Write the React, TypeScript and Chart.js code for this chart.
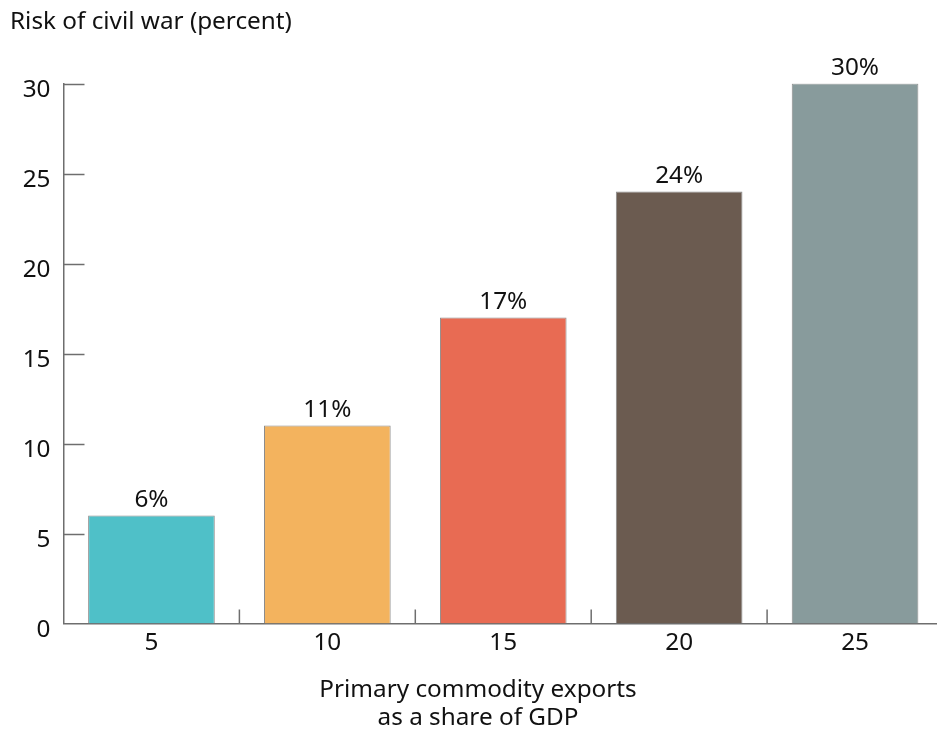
import React, { useEffect, useRef } from "react";
import { Chart, registerables } from "chart.js";

Chart.register(...registerables);

const categories = ["5", "10", "15", "20", "25"];
const riskValues = [6, 11, 17, 24, 30];
const barColors = ["#4FC0C8", "#F3B35E", "#E86B53", "#6B5B50", "#889B9C"];
const yTicks = [0, 5, 10, 15, 20, 25, 30];
const yTitle = "Risk of civil war (percent)";
const xTitle = ["Primary commodity exports", "as a share of GDP"];

const FONT = "'Noto Sans', 'Open Sans', sans-serif";
const AXIS_COLOR = "#6e6e6e";
const FS = 24.3;

const customPlugin = {
  id: "custom",
  afterDraw(chart: any) {
    const ctx = chart.ctx;
    const x = chart.scales.x;
    const y = chart.scales.y;
    const area = chart.chartArea;
    ctx.save();
    ctx.strokeStyle = AXIS_COLOR;
    ctx.lineWidth = 1.5;
    yTicks.forEach((v) => {
      if (v === 0) return;
      const py = Math.round(y.getPixelForValue(v)) + 0.5;
      ctx.beginPath();
      ctx.moveTo(area.left, py);
      ctx.lineTo(area.left + 21, py);
      ctx.stroke();
    });
    for (let i = 1; i < categories.length; i++) {
      const px = (x.getPixelForValue(i - 1) + x.getPixelForValue(i)) / 2;
      ctx.beginPath();
      ctx.moveTo(px, area.bottom);
      ctx.lineTo(px, area.bottom - 14);
      ctx.stroke();
    }
    ctx.fillStyle = "#111";
    ctx.font = `${FS}px ${FONT}`;
    ctx.textAlign = "center";
    ctx.textBaseline = "bottom";
    const meta = chart.getDatasetMeta(0);
    meta.data.forEach((bar: any, i: number) => {
      ctx.fillText(`${riskValues[i]}%`, bar.x, bar.y - 3);
    });
    ctx.textAlign = "left";
    ctx.textBaseline = "middle";
    ctx.fillText(yTitle, 10, 22);
    ctx.textAlign = "center";
    const cx = chart.width / 2;
    ctx.fillText(xTitle[0], cx, 690);
    ctx.fillText(xTitle[1], cx, 718);
    ctx.restore();
  },
};

export default function App() {
  const ref = useRef<HTMLCanvasElement>(null);
  useEffect(() => {
    document.body.style.margin = "0";
    document.body.style.overflow = "hidden";
    const chart = new Chart(ref.current!, {
      type: "bar",
      data: {
        labels: categories,
        datasets: [
          {
            data: riskValues,
            backgroundColor: barColors,
            borderColor: "#8a8a8a",
            borderWidth: 1,
            barPercentage: 0.72,
            categoryPercentage: 1,
          },
        ],
      },
      options: {
        animation: false,
        responsive: false,
        maintainAspectRatio: false,
        layout: { padding: { top: 83.5, left: 10, right: 13, bottom: 0 } },
        plugins: {
          legend: { display: false },
          tooltip: { enabled: false },
        },
        scales: {
          x: {
            grid: { display: false, drawTicks: false },
            border: { display: true, color: AXIS_COLOR, width: 1.5 },
            ticks: {
              color: "#111",
              font: { family: FONT, size: FS },
              padding: 5,
            },
            afterFit: (s: any) => {
              s.height = 112.5;
            },
          },
          y: {
            min: 0,
            max: 30,
            grid: { display: false, drawTicks: false },
            border: { display: true, color: AXIS_COLOR, width: 1.5 },
            ticks: {
              stepSize: 5,
              color: "#111",
              font: { family: FONT, size: FS },
              padding: 13,
              labelOffset: 7,
            },
            afterFit: (s: any) => {
              s.width = 53.5;
            },
          },
        },
      },
      plugins: [customPlugin],
    });
    return () => chart.destroy();
  }, []);
  return (
    <div style={{ width: 956, height: 736 }}>
      <canvas ref={ref} width={956} height={736} style={{ display: "block" }} />
    </div>
  );
}
